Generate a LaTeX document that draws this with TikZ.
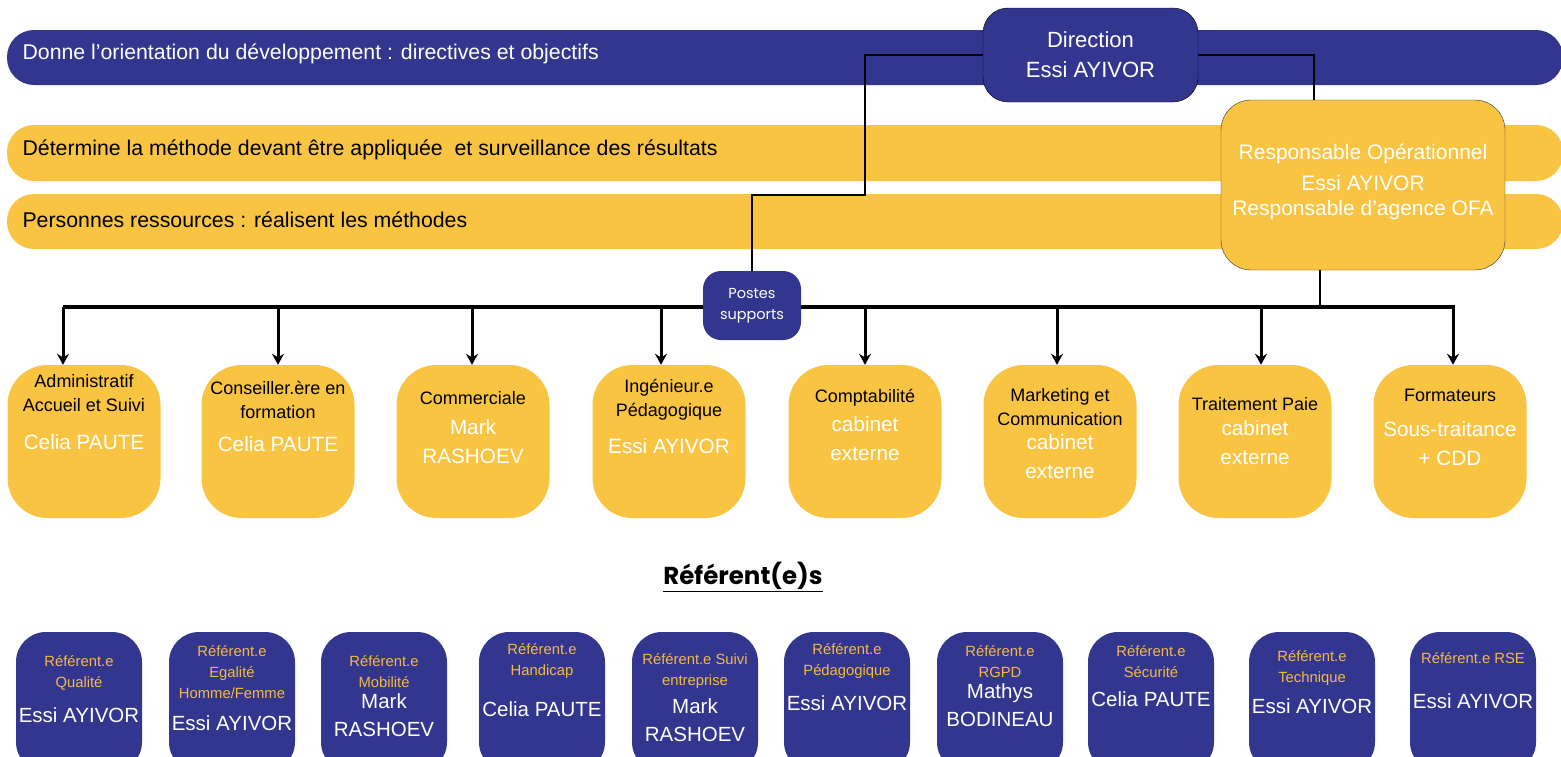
\documentclass[tikz,border=0pt]{standalone}
\usepackage{fontspec}
\usetikzlibrary{arrows.meta}
\setmainfont{Liberation Sans}
\newfontfamily\popfont{Poppins}
\definecolor{orgblue}{HTML}{33368F}
\definecolor{orgyellow}{HTML}{F9C441}
\definecolor{reforange}{HTML}{F4B943}
\tikzset{>={Stealth[length = 11pt, width = 12pt]}}
\tikzset{
	band/.style = {rounded corners = 27pt},
	bandtext/.style = {anchor = west, font = \fontsize{21.3}{24}\selectfont},
	jobbox/.style = {fill = orgyellow, rounded corners = 40pt, minimum width = 153pt, minimum height = 153pt, inner sep = 0pt},
	refbox/.style = {fill = orgblue, rounded corners = 30pt, minimum width = 126pt, minimum height = 140pt, inner sep = 0pt},
	jobtitle/.style = {align = center, font = \fontsize{18}{24}\selectfont},
	jobname/.style = {align = center, text = white, font = \fontsize{20.7}{29}\selectfont},
	reftitle/.style = {align = center, text = reforange, font = \fontsize{14.8}{21}\selectfont},
	refname/.style = {align = center, text = white, font = \fontsize{20.5}{28}\selectfont},
	link/.style = {line width = 1.8pt},
	drop/.style = {->, line width = 3pt},
}
\begin{document}
\begin{tikzpicture}[x = 1pt, y = -1pt]
	\useasboundingbox (0,0) rectangle (1561,756);
	\clip (0,0) rectangle (1561,756);
	\fill[white] (0,0) rectangle (1561,756);
	\fill[orgblue, band] (7,30) rectangle (1563,85);
	\fill[orgyellow, band] (7,125) rectangle (1563,181);
	\fill[orgyellow, band] (7,194) rectangle (1563,249);
	\node[bandtext, text = white] (orient) at (19,54) {Donne l’orientation du développement : directives et objectifs};
	\node[bandtext] (method) at (19,150) {Détermine la méthode devant être appliquée~ et surveillance des résultats};
	\node[bandtext] (people) at (19,220) {Personnes ressources : réalisent les méthodes};
	\node[draw = black, fill = orgblue, rounded corners = 25pt, minimum width = 215pt, minimum height = 94pt, text = white, align = center, font = \fontsize{22}{30}\selectfont] (direction) at (1090.5,55) {Direction\\Essi AYIVOR};
	\node[draw = black!80, fill = orgyellow, rounded corners = 30pt, minimum width = 284pt, minimum height = 170pt] (resp) at (1363,185) {};
	\node[align = center, text = white, font = \fontsize{21}{25}\selectfont] (resptext) at (1363,182) {Responsable Opérationnel\\[6pt]Essi AYIVOR\\Responsable d’agence OFA};
	\coordinate (busW) at (63,307);
	\coordinate (busE) at (1455,307);
	\draw[line width = 3.5pt] (busW) -- (busE);
	\node[fill = orgblue, rounded corners = 18pt, minimum width = 98pt, minimum height = 69pt, text = white, align = center, font = \popfont\fontsize{14.5}{21}\selectfont] (postes) at (752,305.5) {Postes\\supports};
	\coordinate (resptop) at (1314,100);
	\coordinate (respfoot) at (1320,309);
	\draw[link] (direction.west) -| (865,195) -| (postes.north);
	\draw[link] (direction.east) -| (resptop);
	\draw[link] (resp.south -| respfoot) -- (respfoot);
	\foreach \i/\cx/\ax/\ty/\title/\ny/\name in {
		1/84/63/393.5/{Administratif\\Accueil et Suivi}/442/{Celia PAUTE},
		2/278/278/400/{Conseiller.ère en\\formation}/444/{Celia PAUTE},
		3/473/472/398/{Commerciale}/441.5/{Mark\\RASHOEV},
		4/669/661/400/{Ingénieur.e\\Pédagogique}/446/{Essi AYIVOR},
		5/865/865/398/{Comptabilité}/438.5/{cabinet\\externe},
		6/1060/1057/407/{Marketing et\\Communication}/456.5/{cabinet\\externe},
		7/1255/1261/404/{Traitement Paie}/443/{cabinet\\externe},
		8/1450/1453/395/{Formateurs}/444/{Sous-traitance\\+ CDD}} {
		\node[jobbox] (job\i) at (\cx,441.5) {};
		\coordinate (bus\i) at (\ax,307);
		\draw[drop] (bus\i) -- (bus\i |- job\i.north);
		\node[jobtitle] (jobt\i) at (\cx,\ty) {\title};
		\node[jobname] (jobn\i) at (\cx,\ny) {\name};
	}
	\node[font = \popfont\bfseries\fontsize{24.5}{28}\selectfont] (refhead) at (743,577) {\underline{Référent(e)s}};
	\foreach \i/\cx/\ty/\title/\ny/\name in {
		1/79/672.5/{Référent.e\\Qualité}/715/{Essi AYIVOR},
		2/232/672/{Référent.e\\Egalité\\Homme/Femme}/723/{Essi AYIVOR},
		3/384/671.5/{Référent.e\\Mobilité}/715/{Mark\\RASHOEV},
		4/542/661/{Référent.e\\Handicap}/709/{Celia PAUTE},
		5/695/671.5/{Référent.e Suivi\\entreprise}/720/{Mark\\RASHOEV},
		6/847/661/{Référent.e\\Pédagogique}/703/{Essi AYIVOR},
		7/1000/661.5/{Référent.e\\RGPD}/705/{Mathys\\BODINEAU},
		8/1151/661.5/{Référent.e\\Sécurité}/699/{Celia PAUTE},
		9/1312/668.5/{Référent.e\\Technique}/706/{Essi AYIVOR},
		10/1473/658/{Référent.e RSE}/701/{Essi AYIVOR}} {
		\node[refbox] (ref\i) at (\cx,702) {};
		\node[reftitle] (reft\i) at (\cx,\ty) {\title};
		\node[refname] (refn\i) at (\cx,\ny) {\name};
	}
\end{tikzpicture}
\end{document}
